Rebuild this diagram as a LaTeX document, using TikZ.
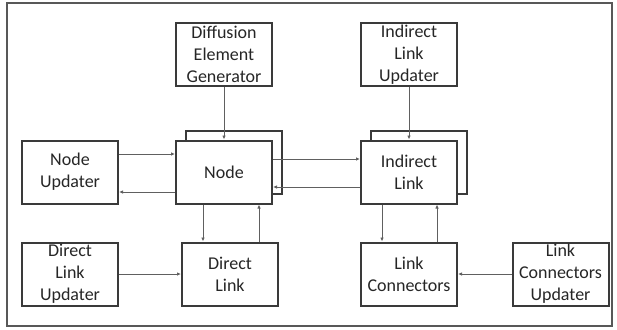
\documentclass[tikz,border=0pt]{standalone}
\usepackage{fontspec}
\setmainfont{Carlito}
\usepackage{tikz}
\usetikzlibrary{positioning,arrows.meta}

\definecolor{boxline}{HTML}{3A3A3A}
\definecolor{wire}{HTML}{606060}

\begin{document}
\begin{tikzpicture}[
  x=1pt, y=-1pt,
  font=\fontsize{18}{22}\selectfont,
  box/.style={draw=boxline, line width=2pt, align=center, inner sep=0pt,
    minimum width=96pt, minimum height=63pt, fill=white, text=black!85},
  flow/.style={-{Latex[length=4pt,width=3.5pt]}, draw=wire, line width=0.9pt},
  frame/.style={draw=boxline!85, line width=1.8pt}]

\useasboundingbox (0,0) rectangle (617,329);
\draw[frame] (7,3) rectangle (612,326);

% stacked copies behind node and indirect link
\node[box] (nodeback) at (234,162) {};
\node[box] (ilinkback) at (418.5,162) {};

\node[box] (deg) at (224,54.5) {Diffusion\\Element\\Generator};
\node[box] (ilu) at (409,54.5) {Indirect\\Link\\Updater};
\node[box] (nupd) at (70,172) {Node\\Updater};
\node[box] (node) at (224,172) {Node};
\node[box] (ilink) at (409,172) {Indirect\\Link};
\node[box] (dlu) at (70,274) {Direct\\Link\\Updater};
\node[box] (dlink) at (230,274) {Direct\\Link};
\node[box] (lconn) at (409,274) {Link\\Connectors};
\node[box] (lcu) at (560.5,274) {Link\\Connectors\\Updater};

\draw[flow] (deg) -- (node);
\draw[flow] (ilu) -- (ilink);
\draw[flow] ([yshift=18pt]nupd.east) -- ([yshift=18pt]node.west);
\draw[flow] ([yshift=-20pt]node.west) -- ([yshift=-20pt]nupd.east);
\draw[flow] ([yshift=13pt]node.east) -- ([yshift=13pt]ilink.west);
\draw[flow] ([yshift=-15pt]ilink.west) -- ([yshift=-15pt]node.east);
\draw[flow] ([xshift=-21pt]node.south) -- ([xshift=-21pt]node.south |- dlink.north);
\draw[flow] ([xshift=29pt]dlink.north) -- ([xshift=29pt]dlink.north |- node.south);
\draw[flow] ([xshift=-27pt]ilink.south) -- ([xshift=-27pt]ilink.south |- lconn.north);
\draw[flow] ([xshift=28pt]lconn.north) -- ([xshift=28pt]lconn.north |- ilink.south);
\draw[flow] (dlu) -- (dlink);
\draw[flow] (lcu) -- (lconn);
\end{tikzpicture}
\end{document}
